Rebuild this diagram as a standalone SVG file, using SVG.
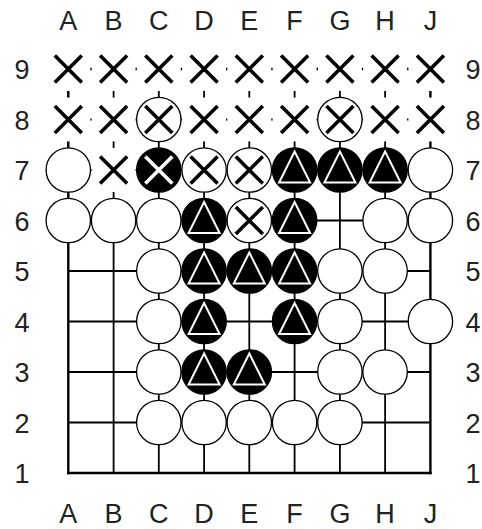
<svg xmlns="http://www.w3.org/2000/svg" xmlns:xlink="http://www.w3.org/1999/xlink" width="482" height="529" viewBox="0 0 482 529">
<style>
.lbl{font-family:"Liberation Sans",Arial,sans-serif;font-size:27px;fill:#222;text-anchor:middle}
.grid line{stroke:#000;stroke-width:1.8}
.grid line.edge{stroke-width:2.4}
.bg{fill:#fff;stroke:none}
.ws{fill:#fff;stroke:#000;stroke-width:1.3}
.bs{fill:#000;stroke:#000;stroke-width:1.3}
.xb{stroke:#000;stroke-width:3.6;fill:none}
.xw{stroke:#fff;stroke-width:3.6;fill:none}
.tri{fill:#000;stroke:#fff;stroke-width:2}
</style>
<defs>
<g id="mx"><circle class="bg" r="22"/><path class="xb" d="M-13.5,-13.5L13.5,13.5M13.5,-13.5L-13.5,13.5"/></g>
<g id="ws"><circle class="ws" r="22.2"/></g>
<g id="wsx"><circle class="ws" r="22.2"/><path class="xb" d="M-13.5,-13.5L13.5,13.5M13.5,-13.5L-13.5,13.5"/></g>
<g id="bsx"><circle class="bs" r="22.2"/><path class="xw" d="M-13.5,-13.5L13.5,13.5M13.5,-13.5L-13.5,13.5"/></g>
<g id="bst"><circle class="bs" r="22.2"/><path class="tri" d="M0,-18.5L15.5,12.5L-15.5,12.5Z"/></g>
</defs>
<rect width="482" height="529" fill="#fff"/>
<g id="labels">
<text class="lbl" x="68.3" y="29.5">A</text><text class="lbl" x="113.6" y="29.5">B</text><text class="lbl" x="158.8" y="29.5">C</text><text class="lbl" x="204.1" y="29.5">D</text><text class="lbl" x="249.3" y="29.5">E</text><text class="lbl" x="294.6" y="29.5">F</text><text class="lbl" x="339.9" y="29.5">G</text><text class="lbl" x="385.1" y="29.5">H</text><text class="lbl" x="430.4" y="29.5">J</text>
<text class="lbl" x="68.3" y="522.5">A</text><text class="lbl" x="113.6" y="522.5">B</text><text class="lbl" x="158.8" y="522.5">C</text><text class="lbl" x="204.1" y="522.5">D</text><text class="lbl" x="249.3" y="522.5">E</text><text class="lbl" x="294.6" y="522.5">F</text><text class="lbl" x="339.9" y="522.5">G</text><text class="lbl" x="385.1" y="522.5">H</text><text class="lbl" x="430.4" y="522.5">J</text>
<text class="lbl" x="22" y="79">9</text><text class="lbl" x="22" y="129.5">8</text><text class="lbl" x="22" y="180">7</text><text class="lbl" x="22" y="230.5">6</text><text class="lbl" x="22" y="281">5</text><text class="lbl" x="22" y="331.5">4</text><text class="lbl" x="22" y="382">3</text><text class="lbl" x="22" y="432.5">2</text><text class="lbl" x="22" y="483">1</text>
<text class="lbl" x="473" y="79">9</text><text class="lbl" x="473" y="129.5">8</text><text class="lbl" x="473" y="180">7</text><text class="lbl" x="473" y="230.5">6</text><text class="lbl" x="473" y="281">5</text><text class="lbl" x="473" y="331.5">4</text><text class="lbl" x="473" y="382">3</text><text class="lbl" x="473" y="432.5">2</text><text class="lbl" x="473" y="483">1</text>
</g>
<g id="connectors" class="grid">
<line class="edge" x1="67.1" y1="69" x2="431.6" y2="69"/>
<line x1="68.3" y1="119.5" x2="430.4" y2="119.5"/>
<line x1="68.3" y1="170" x2="430.4" y2="170"/>
<line x1="68.3" y1="220.5" x2="430.4" y2="220.5"/>
<line x1="68.3" y1="271" x2="430.4" y2="271"/>
<line x1="68.3" y1="321.5" x2="430.4" y2="321.5"/>
<line x1="68.3" y1="372" x2="430.4" y2="372"/>
<line x1="68.3" y1="422.5" x2="430.4" y2="422.5"/>
<line class="edge" x1="67.1" y1="473" x2="431.6" y2="473"/>
<line class="edge" x1="68.3" y1="67.8" x2="68.3" y2="474.2"/>
<line x1="113.6" y1="69" x2="113.6" y2="473"/>
<line x1="158.8" y1="69" x2="158.8" y2="473"/>
<line x1="204.1" y1="69" x2="204.1" y2="473"/>
<line x1="249.3" y1="69" x2="249.3" y2="473"/>
<line x1="294.6" y1="69" x2="294.6" y2="473"/>
<line x1="339.9" y1="69" x2="339.9" y2="473"/>
<line x1="385.1" y1="69" x2="385.1" y2="473"/>
<line class="edge" x1="430.4" y1="67.8" x2="430.4" y2="474.2"/>
</g>
<g id="row9">
<g id="A9"><use xlink:href="#mx" x="68.3" y="69"/></g>
<g id="B9"><use xlink:href="#mx" x="113.6" y="69"/></g>
<g id="C9"><use xlink:href="#mx" x="158.8" y="69"/></g>
<g id="D9"><use xlink:href="#mx" x="204.1" y="69"/></g>
<g id="E9"><use xlink:href="#mx" x="249.3" y="69"/></g>
<g id="F9"><use xlink:href="#mx" x="294.6" y="69"/></g>
<g id="G9"><use xlink:href="#mx" x="339.9" y="69"/></g>
<g id="H9"><use xlink:href="#mx" x="385.1" y="69"/></g>
<g id="J9"><use xlink:href="#mx" x="430.4" y="69"/></g>
</g>
<g id="row8">
<g id="A8"><use xlink:href="#mx" x="68.3" y="119.5"/></g>
<g id="B8"><use xlink:href="#mx" x="113.6" y="119.5"/></g>
<g id="C8"><use xlink:href="#wsx" x="158.8" y="119.5"/></g>
<g id="D8"><use xlink:href="#mx" x="204.1" y="119.5"/></g>
<g id="E8"><use xlink:href="#mx" x="249.3" y="119.5"/></g>
<g id="F8"><use xlink:href="#mx" x="294.6" y="119.5"/></g>
<g id="G8"><use xlink:href="#wsx" x="339.9" y="119.5"/></g>
<g id="H8"><use xlink:href="#mx" x="385.1" y="119.5"/></g>
<g id="J8"><use xlink:href="#mx" x="430.4" y="119.5"/></g>
</g>
<g id="row7">
<g id="A7"><use xlink:href="#ws" x="68.3" y="170"/></g>
<g id="B7"><use xlink:href="#mx" x="113.6" y="170"/></g>
<g id="C7"><use xlink:href="#bsx" x="158.8" y="170"/></g>
<g id="D7"><use xlink:href="#wsx" x="204.1" y="170"/></g>
<g id="E7"><use xlink:href="#wsx" x="249.3" y="170"/></g>
<g id="F7"><use xlink:href="#bst" x="294.6" y="170"/></g>
<g id="G7"><use xlink:href="#bst" x="339.9" y="170"/></g>
<g id="H7"><use xlink:href="#bst" x="385.1" y="170"/></g>
<g id="J7"><use xlink:href="#ws" x="430.4" y="170"/></g>
</g>
<g id="row6">
<g id="A6"><use xlink:href="#ws" x="68.3" y="220.5"/></g>
<g id="B6"><use xlink:href="#ws" x="113.6" y="220.5"/></g>
<g id="C6"><use xlink:href="#ws" x="158.8" y="220.5"/></g>
<g id="D6"><use xlink:href="#bst" x="204.1" y="220.5"/></g>
<g id="E6"><use xlink:href="#wsx" x="249.3" y="220.5"/></g>
<g id="F6"><use xlink:href="#bst" x="294.6" y="220.5"/></g>
<g id="H6"><use xlink:href="#ws" x="385.1" y="220.5"/></g>
<g id="J6"><use xlink:href="#ws" x="430.4" y="220.5"/></g>
</g>
<g id="row5">
<g id="C5"><use xlink:href="#ws" x="158.8" y="271"/></g>
<g id="D5"><use xlink:href="#bst" x="204.1" y="271"/></g>
<g id="E5"><use xlink:href="#bst" x="249.3" y="271"/></g>
<g id="F5"><use xlink:href="#bst" x="294.6" y="271"/></g>
<g id="G5"><use xlink:href="#ws" x="339.9" y="271"/></g>
<g id="H5"><use xlink:href="#ws" x="385.1" y="271"/></g>
</g>
<g id="row4">
<g id="C4"><use xlink:href="#ws" x="158.8" y="321.5"/></g>
<g id="D4"><use xlink:href="#bst" x="204.1" y="321.5"/></g>
<g id="F4"><use xlink:href="#bst" x="294.6" y="321.5"/></g>
<g id="G4"><use xlink:href="#ws" x="339.9" y="321.5"/></g>
<g id="J4"><use xlink:href="#ws" x="430.4" y="321.5"/></g>
</g>
<g id="row3">
<g id="C3"><use xlink:href="#ws" x="158.8" y="372"/></g>
<g id="D3"><use xlink:href="#bst" x="204.1" y="372"/></g>
<g id="E3"><use xlink:href="#bst" x="249.3" y="372"/></g>
<g id="G3"><use xlink:href="#ws" x="339.9" y="372"/></g>
<g id="H3"><use xlink:href="#ws" x="385.1" y="372"/></g>
</g>
<g id="row2">
<g id="C2"><use xlink:href="#ws" x="158.8" y="422.5"/></g>
<g id="D2"><use xlink:href="#ws" x="204.1" y="422.5"/></g>
<g id="E2"><use xlink:href="#ws" x="249.3" y="422.5"/></g>
<g id="F2"><use xlink:href="#ws" x="294.6" y="422.5"/></g>
<g id="G2"><use xlink:href="#ws" x="339.9" y="422.5"/></g>
</g>
</svg>
